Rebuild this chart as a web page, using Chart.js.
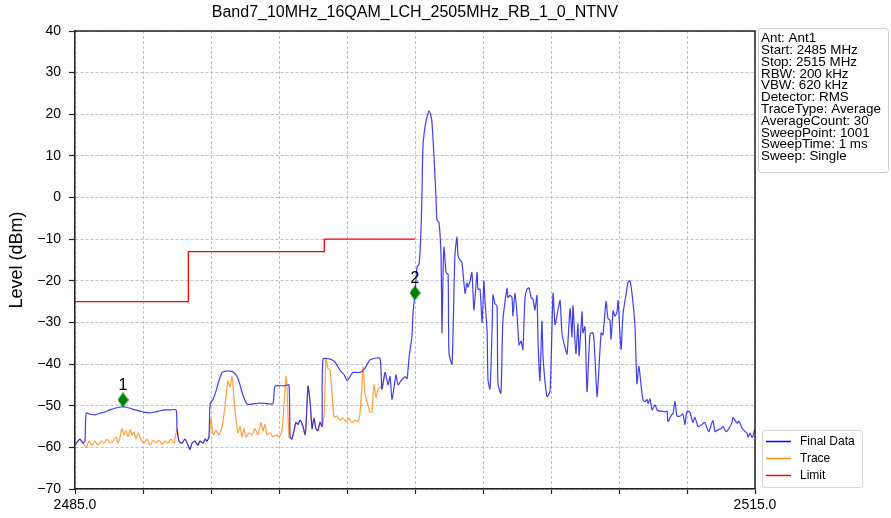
<!DOCTYPE html>
<html>
<head>
<meta charset="utf-8">
<script src="https://cdn.jsdelivr.net/npm/chart.js@4"></script>
<style>
  html, body { margin: 0; padding: 0; background: #fdfdfd; }
  #wrap { width: 891px; height: 518px; }
</style>
</head>
<body>
<div id="wrap"><canvas id="spectrum" width="891" height="518"></canvas></div>
<script>
// frequencies in MHz, levels in dBm
const finalFreq = [
  2485.00,2485.13,2485.22,2485.35,2485.44,2485.49,2485.66,2485.88,2486.10,2486.32,
  2486.54,2486.76,2486.99,2487.21,2487.43,2487.65,2487.87,2488.09,2488.31,2488.53,
  2488.75,2488.97,2489.19,2489.46,2489.50,2489.59,2489.72,2489.85,2489.99,2490.07,
  2490.16,2490.29,2490.43,2490.51,2490.65,2490.74,2490.82,2490.91,2490.96,2491.09,
  2491.22,2491.35,2491.49,2491.66,2491.84,2492.01,2492.15,2492.28,2492.41,2492.59,
  2492.81,2493.07,2493.34,2493.60,2493.74,2493.82,2494.04,2494.26,2494.44,2494.49,
  2494.57,2494.66,2494.75,2494.84,2494.93,2495.06,2495.15,2495.19,2495.28,2495.37,
  2495.46,2495.54,2495.63,2495.72,2495.81,2495.90,2495.94,2496.25,2496.47,2496.69,
  2496.87,2497.00,2497.13,2497.26,2497.57,2497.79,2498.01,2498.24,2498.46,2498.54,
  2498.68,2498.81,2498.90,2498.99,2499.16,2499.25,2499.38,2499.56,2499.65,2499.74,
  2499.87,2499.91,2500.00,2500.09,2500.18,2500.26,2500.31,2500.35,2500.44,2500.53,
  2500.62,2500.71,2500.75,2500.84,2500.93,2500.97,2501.06,2501.15,2501.19,2501.24,
  2501.28,2501.37,2501.46,2501.50,2501.63,2501.68,2501.76,2501.85,2501.90,2501.99,
  2502.07,2502.21,2502.29,2502.34,2502.43,2502.51,2502.56,2502.60,2502.74,2502.78,
  2502.87,2502.96,2503.04,2503.09,2503.18,2503.22,2503.31,2503.40,2503.44,2503.53,
  2503.62,2503.66,2503.79,2503.88,2504.06,2504.10,2504.19,2504.28,2504.32,2504.41,
  2504.50,2504.59,2504.68,2504.76,2504.85,2504.94,2505.03,2505.12,2505.21,2505.29,
  2505.38,2505.43,2505.51,2505.60,2505.65,2505.82,2505.96,2506.09,2506.18,2506.31,
  2506.40,2506.49,2506.62,2506.71,2506.84,2506.93,2506.97,2507.10,2507.19,2507.24,
  2507.37,2507.41,2507.50,2507.59,2507.72,2507.85,2507.90,2508.03,2508.07,2508.21,
  2508.29,2508.43,2508.51,2508.60,2508.65,2508.74,2508.82,2508.91,2508.96,2509.09,
  2509.18,2509.31,2509.40,2509.49,2509.62,2509.71,2509.79,2509.88,2509.97,2510.06,
  2510.15,2510.24,2510.28,2510.37,2510.46,2510.59,2510.68,2510.76,2510.90,2511.03,
  2511.12,2511.16,2511.34,2511.38,2511.47,2511.56,2511.69,2511.82,2511.91,2512.00,
  2512.13,2512.26,2512.35,2512.49,2512.66,2512.79,2512.88,2512.97,2513.10,2513.15,
  2513.24,2513.37,2513.50,2513.59,2513.72,2513.81,2513.99,2514.03,2514.21,2514.29,
  2514.43,2514.56,2514.65,2514.69,2514.78,2514.87,2514.91,2515.00
];
const finalLevel = [
  -59.5,-58.5,-58,-59,-58.5,-51.8,-52,-52.2,-51.8,-51.5,
  -51,-50.6,-50.3,-50.3,-50.6,-51,-51.3,-51.6,-51.7,-51.5,
  -51.2,-51,-51,-51,-55.5,-58.5,-59,-58,-59.5,-60.5,
  -59,-58.5,-59.5,-58.5,-59,-58,-58.5,-57.5,-49.5,-48.5,
  -46.5,-44,-42,-41.7,-41.7,-42,-43,-45,-47.5,-49.6,
  -49.6,-49.4,-49.4,-49.6,-49.5,-45.3,-45.2,-45.2,-45,-57.5,
  -58,-56,-54,-54.5,-53.5,-55,-57,-55,-45.3,-49,
  -55.5,-53,-55.5,-56,-54,-55,-38.8,-38.8,-39.5,-41.5,
  -42.5,-44,-43,-42,-42,-41,-39,-38.6,-38.6,-46,
  -42,-45,-43,-48.5,-42.6,-45,-44,-43,-43.5,-38.3,
  -33,-27.8,-23,-16.7,-16,-8.6,1.7,12.1,17,19.3,
  20.8,19.5,18,9.8,-0.5,-5.4,-6,-14.3,-32.5,-17.4,
  -11.9,-18,-18.5,-37.4,-40,-32,-14,-9.4,-14,-15,
  -15.5,-23,-20.5,-21.5,-20,-18,-23,-27,-18,-22,
  -22,-30,-20,-25,-32,-43.8,-46,-32,-23.4,-25.5,
  -26,-44.8,-47,-29.4,-21.8,-24,-23.5,-24,-28.4,-23,
  -28,-35.4,-34.5,-36.5,-24.3,-22,-21.7,-24,-24.5,-27,
  -23.5,-34.8,-44,-29.7,-38.3,-47.8,-46.5,-23,-30.5,-27,
  -24.7,-33,-36,-37.6,-26.7,-33.5,-26,-37.5,-30.3,-38,
  -27.5,-32.5,-31,-46.6,-32.8,-32.5,-34.5,-47.8,-45.5,-32.5,
  -33,-25,-29,-29.5,-34,-27.2,-28.5,-27.5,-24.7,-36.5,
  -27.8,-23.3,-20.3,-20,-25.3,-31.5,-44.7,-40.5,-45,-48.6,
  -49,-48.5,-49.5,-48.4,-51,-49.8,-51,-51.3,-51.3,-51.5,
  -51.3,-53.8,-52,-52,-49,-52.5,-52.5,-52,-54.5,-51.3,
  -51.6,-54,-52.8,-55,-54.5,-54,-55.3,-56.2,-54,-53.6,
  -56.2,-55.8,-55.5,-55,-56.2,-55.8,-54,-52.8,-54.2,-53.7,
  -55.4,-56.2,-56.6,-57.6,-56.6,-57.6,-57.2,-55.4
];

const traceFreq = [
  2485.00,2485.13,2485.22,2485.35,2485.49,2485.62,2485.75,2485.88,2486.01,2486.15,
  2486.28,2486.41,2486.54,2486.68,2486.81,2486.90,2486.99,2487.07,2487.16,2487.25,
  2487.34,2487.43,2487.51,2487.60,2487.69,2487.78,2487.91,2488.04,2488.18,2488.31,
  2488.44,2488.57,2488.71,2488.84,2488.97,2489.10,2489.24,2489.37,2489.50,2489.59,
  2489.72,2489.85,2489.99,2490.07,2490.16,2490.29,2490.43,2490.51,2490.65,2490.74,
  2490.82,2490.91,2491.00,2491.09,2491.22,2491.35,2491.49,2491.62,2491.75,2491.84,
  2491.93,2492.01,2492.10,2492.19,2492.28,2492.37,2492.46,2492.54,2492.68,2492.81,
  2492.94,2493.07,2493.21,2493.29,2493.38,2493.47,2493.60,2493.74,2493.87,2494.00,
  2494.13,2494.22,2494.31,2494.35,2494.44,2494.49,2494.57,2494.66,2494.75,2494.84,
  2494.93,2495.06,2495.15,2495.19,2495.28,2495.37,2495.46,2495.54,2495.63,2495.72,
  2495.81,2495.90,2495.99,2496.07,2496.16,2496.25,2496.34,2496.43,2496.56,2496.69,
  2496.82,2496.96,2497.09,2497.22,2497.35,2497.49,2497.57,2497.66,2497.71,2497.79,
  2497.93,2498.01,2498.10,2498.19,2498.28,2498.37,2498.46,2498.54,2498.68
];
const traceLevel = [
  -59.5,-58.5,-58,-59,-60,-58.5,-59.5,-58.5,-59.5,-58.5,
  -59,-58,-59,-58.5,-57.5,-59,-57.5,-55.5,-57,-56,
  -57.5,-55.7,-57,-56.3,-58,-56.5,-58,-59,-58,-59.5,
  -58.3,-59,-58.3,-59.3,-58.5,-59,-58,-59,-55.5,-58.5,
  -59,-58,-59.5,-60.5,-59,-58.5,-59.5,-58.5,-59,-58,
  -58.5,-57.5,-53,-57,-56,-57,-55,-50,-44,-45.5,
  -43,-48,-53,-56.5,-55,-57.5,-55.5,-57.5,-56.5,-57,
  -55.5,-57,-54,-56,-54.5,-57,-56.5,-57.5,-57,-57.5,
  -56,-50,-43,-45,-57.5,-57.5,-58,-56,-54,-54.5,
  -53.5,-55,-57,-55,-45.3,-49,-55.5,-53,-55.5,-56,
  -54,-55,-52,-38.6,-41,-41.4,-47,-52.7,-52.5,-53.5,
  -53,-53.8,-53,-54,-53.5,-53.8,-52,-45,-40.6,-47,
  -50,-51.5,-51.5,-45,-48,-46,-45.5,-46,-42
];

// limit line corners
const limitFreq = [2485, 2490, 2490, 2496, 2496, 2500];
const limitLevel = [-25, -25, -13, -13, -10, -10];

const markerFreq = [2487.12, 2500.0];
const markerLevel = [-48.6, -22.9];
const markerNames = ['1', '2'];

const xTickLabels = { 2485: '2485.0', 2515: '2515.0' };

const infoLines = [
  'Ant: Ant1', 'Start: 2485 MHz', 'Stop: 2515 MHz', 'RBW: 200 kHz', 'VBW: 620 kHz',
  'Detector: RMS', 'TraceType: Average', 'AverageCount: 30', 'SweepPoint: 1001',
  'SweepTime: 1 ms', 'Sweep: Single'
];

const legendItems = [
  { text: 'Final Data', color: '#0000ff' },
  { text: 'Trace', color: '#ff8c1a' },
  { text: 'Limit', color: '#ff0000' }
];

const FONT = "'Liberation Sans', Arial, sans-serif";
Chart.defaults.font.family = FONT;
Chart.defaults.color = '#000';

function pairs(xs, ys) {
  return xs.map((x, i) => ({ x: x, y: ys[i] }));
}

// thin green diamond like matplotlib 'd'
const diamond = document.createElement('canvas');
diamond.width = 11;
diamond.height = 15;
(function() {
  const c = diamond.getContext('2d');
  c.fillStyle = '#008000';
  c.beginPath();
  c.moveTo(5.5, 0);
  c.lineTo(11, 7.5);
  c.lineTo(5.5, 15);
  c.lineTo(0, 7.5);
  c.closePath();
  c.fill();
})();

const overlay = {
  id: 'overlay',
  afterDraw(chart) {
    const ctx = chart.ctx;
    const a = chart.chartArea;
    ctx.save();

    // top and right spines
    ctx.strokeStyle = '#222';
    ctx.lineWidth = 1.5;
    ctx.beginPath();
    ctx.moveTo(a.left, a.top);
    ctx.lineTo(a.right, a.top);
    ctx.lineTo(a.right, a.bottom);
    ctx.stroke();

    // title
    ctx.fillStyle = '#000';
    ctx.font = '16px ' + FONT;
    ctx.textAlign = 'center';
    ctx.textBaseline = 'middle';
    ctx.fillText('Band7_10MHz_16QAM_LCH_2505MHz_RB_1_0_NTNV', (a.left + a.right) / 2, 13);

    // marker numbers
    const xs = chart.scales.x, ys = chart.scales.y;
    ctx.font = '16px ' + FONT;
    markerNames.forEach((n, i) => {
      ctx.fillText(n, xs.getPixelForValue(markerFreq[i]), ys.getPixelForValue(markerLevel[i]) - 14);
    });

    // info box
    ctx.fillStyle = 'rgba(255,255,255,0.85)';
    ctx.strokeStyle = '#cccccc';
    ctx.lineWidth = 1;
    ctx.beginPath();
    ctx.roundRect(758.5, 28.5, 130, 144, 3);
    ctx.fill();
    ctx.stroke();
    ctx.fillStyle = '#000';
    ctx.font = '13.4px ' + FONT;
    ctx.textAlign = 'left';
    infoLines.forEach((t, i) => ctx.fillText(t, 761, 38.5 + i * 11.8));

    // legend
    ctx.fillStyle = 'rgba(255,255,255,0.85)';
    ctx.strokeStyle = '#d5d5d5';
    ctx.beginPath();
    ctx.roundRect(762.5, 430.5, 100, 57, 3);
    ctx.fill();
    ctx.stroke();
    ctx.font = '12px ' + FONT;
    legendItems.forEach((it, i) => {
      const y = 441.5 + i * 17;
      ctx.strokeStyle = it.color;
      ctx.lineWidth = 1.5;
      ctx.beginPath();
      ctx.moveTo(766, y);
      ctx.lineTo(791, y);
      ctx.stroke();
      ctx.fillStyle = '#000';
      ctx.fillText(it.text, 800, y);
    });
    ctx.restore();
  }
};

const gridOpts = {
  color: '#b0b0b0',
  lineWidth: 0.8,
  tickColor: '#222',
  tickBorderDash: [],
  tickWidth: 1.2
};

new Chart(document.getElementById('spectrum'), {
  type: 'line',
  data: {
    datasets: [
      {
        label: 'Markers',
        data: pairs(markerFreq, markerLevel),
        showLine: false,
        pointStyle: diamond,
        pointRadius: 7,
        order: 0
      },
      {
        label: 'Final Data',
        data: pairs(finalFreq, finalLevel),
        borderColor: 'rgba(30,30,230,0.85)',
        borderWidth: 1.2,
        pointRadius: 0,
        tension: 0.2,
        order: 1
      },
      {
        label: 'Trace',
        data: pairs(traceFreq, traceLevel),
        borderColor: 'rgba(255,135,15,0.8)',
        borderWidth: 1.2,
        pointRadius: 0,
        tension: 0.2,
        order: 2
      },
      {
        label: 'Limit',
        data: pairs(limitFreq, limitLevel),
        borderColor: '#ff0000',
        borderWidth: 1.3,
        pointRadius: 0,
        order: 3
      }
    ]
  },
  options: {
    responsive: false,
    animation: false,
    events: [],
    layout: { padding: { top: 31, right: 136, left: 0, bottom: 0 } },
    plugins: {
      legend: { display: false },
      tooltip: { enabled: false },
      title: { display: false }
    },
    scales: {
      x: {
        type: 'linear',
        min: 2485,
        max: 2515,
        afterFit: s => { s.height = 29; },
        border: { display: true, color: '#222', width: 1.5, dash: [3, 2] },
        grid: Object.assign({ tickLength: 5 }, gridOpts),
        ticks: {
          stepSize: 3,
          autoSkip: false,
          maxRotation: 0,
          padding: 3,
          font: { size: 14 },
          callback: v => xTickLabels[v] || ''
        }
      },
      y: {
        min: -70,
        max: 40,
        afterFit: s => { s.width = 75; },
        border: { display: true, color: '#222', width: 1.5, dash: [3, 2] },
        grid: Object.assign({ tickLength: 6 }, gridOpts),
        ticks: {
          stepSize: 10,
          padding: 8,
          font: { size: 14 },
          callback: v => String(v).replace('-', '\u2212')
        },
        title: {
          display: true,
          text: 'Level (dBm)',
          font: { size: 18 },
          padding: { top: 6, bottom: 0 }
        }
      }
    }
  },
  plugins: [overlay]
});
</script>
</body>
</html>
